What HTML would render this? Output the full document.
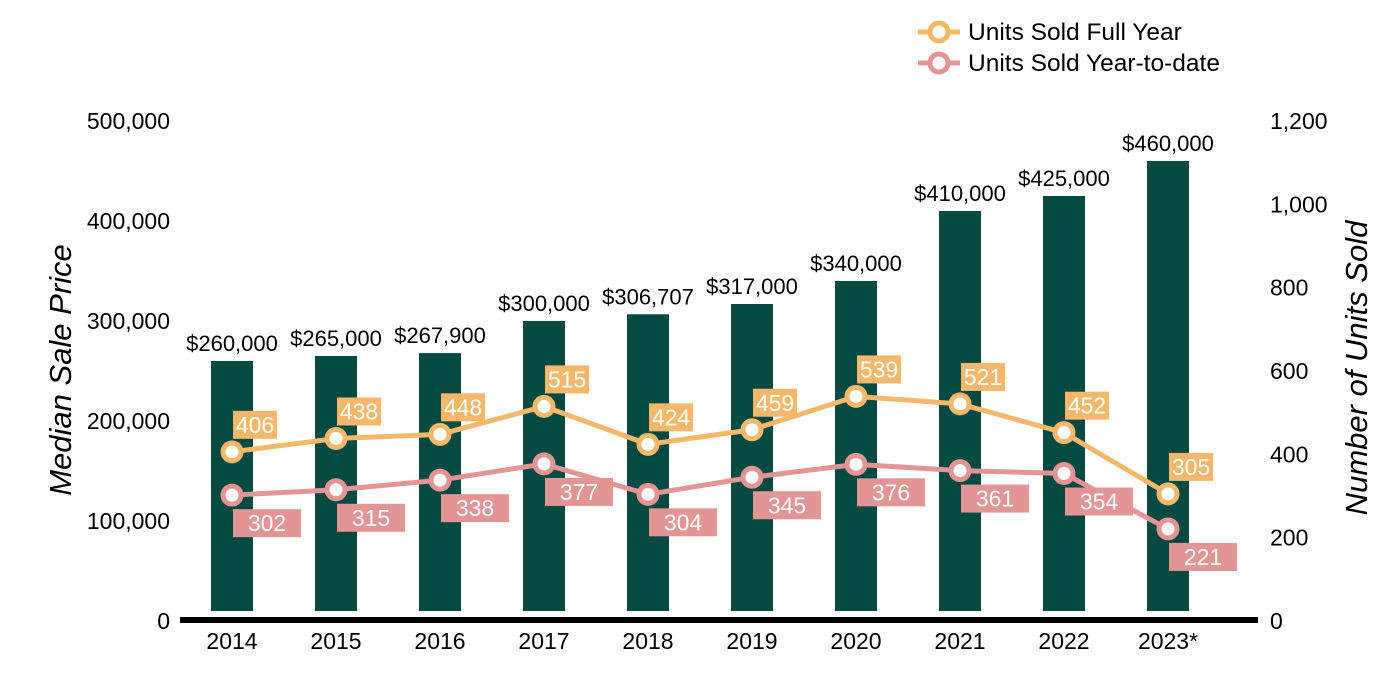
<!DOCTYPE html>
<html><head><meta charset="utf-8"><style>
html,body{margin:0;padding:0;background:#fff;}
svg{display:block;font-family:"Liberation Sans",Arial,sans-serif;}
</style></head><body>
<svg id="chart" width="1400" height="700"></svg>
<script>
const years=["2014","2015","2016","2017","2018","2019","2020","2021","2022","2023*"];
const prices=[260000,265000,267900,300000,306707,317000,340000,410000,425000,460000];
const priceLabels=["$260,000","$265,000","$267,900","$300,000","$306,707","$317,000","$340,000","$410,000","$425,000","$460,000"];
const fullYear=[406,438,448,515,424,459,539,521,452,305];
const ytd=[302,315,338,377,304,345,376,361,354,221];
const leftTicks=[0,100000,200000,300000,400000,500000];
const rightTicks=[0,200,400,600,800,1000,1200];

const NS="http://www.w3.org/2000/svg";
const svg=document.getElementById('chart');
function mk(tag,attrs,parent){const e=document.createElementNS(NS,tag);for(const k in attrs)e.setAttribute(k,attrs[k]);(parent||svg).appendChild(e);return e;}
const y0=621,plotH=500;
const yL=v=>y0-v/500000*plotH;
const yR=v=>y0-v/1200*plotH;
const xC=i=>232+i*104;

leftTicks.forEach(t=>{const e=mk('text',{x:170,y:yL(t)+8,'text-anchor':'end','font-size':23,fill:'#000'});e.textContent=t.toLocaleString('en-US');

});
rightTicks.forEach(t=>{const e=mk('text',{x:1270,y:yR(t)+8,'font-size':23,fill:'#000'});e.textContent=t.toLocaleString('en-US');

});

let t=mk('text',{x:0,y:0,transform:'translate(71,370) rotate(-90)','text-anchor':'middle','font-size':31,'font-style':'italic'});t.textContent='Median Sale Price';

t=mk('text',{x:0,y:0,transform:'translate(1367,368) rotate(-90)','text-anchor':'middle','font-size':31,'font-style':'italic'});t.textContent='Number of Units Sold';


years.forEach((y,i)=>{
 const top=yL(prices[i]);
 const b=mk('rect',{x:xC(i)-21,y:top,width:42,height:611-top,fill:'#034a42'});
 
 
 const l=mk('text',{x:xC(i),y:top-10,'text-anchor':'middle','font-size':22});l.textContent=priceLabels[i];
 
 
 const xl=mk('text',{x:xC(i),y:649,'text-anchor':'middle','font-size':23});xl.textContent=y;
 
 
});
const ax=mk('line',{x1:180,x2:1258,y1:620,y2:620,stroke:'#000','stroke-width':6});


function series(vals,color,name,above,bw){
 const pts=vals.map((v,i)=>xC(i)+','+yR(v)).join(' ');
 const pl=mk('polyline',{points:pts,fill:'none',stroke:color,'stroke-width':5});
 
 
 vals.forEach((v,i)=>{
  const cx=xC(i),cy=yR(v);
  const c=mk('circle',{cx:cx,cy:cy,r:9,fill:'#fff',stroke:color,'stroke-width':5});
  
  
  const by=above?cy-41:cy+14;
  const r=mk('rect',{x:cx+1,y:by,width:bw,height:28,fill:color});
  
  
  const tx=mk('text',{x:cx+1+bw/2,y:by+22,'text-anchor':'middle','font-size':23,fill:'#fff'});tx.textContent=v;
  
  
 });
}
series(fullYear,'#f5b86a','full-year',true,44);
series(ytd,'#e39494','ytd',false,68);

function legend(y,color,label,nm){
 const g=mk('g',{});
 
 
 mk('line',{x1:918,x2:960,y1:y,y2:y,stroke:color,'stroke-width':5},g);
 mk('circle',{cx:939,cy:y,r:9,fill:'#fff',stroke:color,'stroke-width':5},g);
 const tt=mk('text',{x:968,y:y+8,'font-size':24.5},g);tt.textContent=label;
}
legend(32,'#f5b86a','Units Sold Full Year','legend-full-year');
legend(63,'#e39494','Units Sold Year-to-date','legend-ytd');
</script>
</body></html>
